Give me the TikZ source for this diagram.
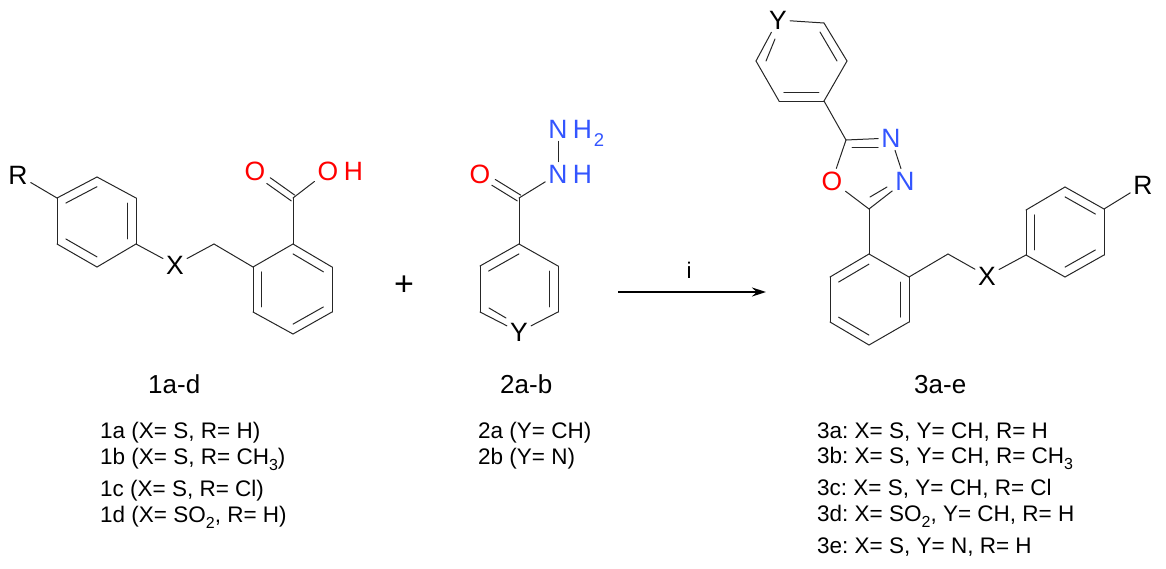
\documentclass[tikz,border=0pt]{standalone}
\usepackage{fontspec}
\setmainfont{Liberation Sans}
\usetikzlibrary{arrows.meta, positioning, calc}
\definecolor{oxred}{RGB}{255,0,0}
\definecolor{nitroblue}{RGB}{51,85,255}
\newcommand{\lowidx}[1]{\raisebox{-6.5pt}{\fontsize{16}{16}\selectfont #1}}
\newcommand{\innerbond}[3]{\draw[bond] ($(#1)!0.22!(#3)$) -- ($(#2)!0.22!(#3)$);}

\begin{document}
\begin{tikzpicture}[
        x=1pt, y=-1pt,
        bond/.style={line width=1pt, line cap=round, black!85},
        atom/.style={inner sep=3pt, font=\fontsize{26.5}{27}\selectfont},
        oatom/.style={atom, text=oxred},
        natom/.style={atom, text=nitroblue},
        title/.style={inner sep=0pt, anchor=base west, font=\fontsize{26}{27}\selectfont},
        entry/.style={inner sep=0pt, anchor=base west, font=\fontsize{22.5}{23}\selectfont\frenchspacing}
    ]
        \useasboundingbox (0,0) rectangle (1166,568);

        % reactant 1
        \foreach \name/\px/\py in {a1/57/198, a2/97/177, a3/136/198, a4/136/244, a5/97/267, a6/57/244,
            acen/97/221, ach/214/244,
            b1/293/244, b2/332/267, b3/332/312, b4/293/334, b5/253/312, b6/253/267,
            bcen/293/289, bco/293/198}
            \coordinate (\name) at (\px,\py);
        \node[atom] (ra) at (18,175) {R};
        \node[atom] (xa) at (175,265) {X};
        \node[oatom] (oa) at (255,171) {O};
        \node[oatom] (oha) at (328,171) {O};
        \node[oatom, right=-0.9pt of oha] (oha2) {H};

        \foreach \from/\to in {a1/a2, a2/a3, a3/a4, a4/a5, a5/a6, a6/a1, ra/a1, a4/xa, xa/ach, ach/b6,
            b1/b2, b2/b3, b3/b4, b4/b5, b5/b6, b6/b1, b1/bco, bco/oha}
            \draw[bond] (\from) -- (\to);
        \foreach \from/\to/\cen in {a1/a2/acen, a3/a4/acen, a5/a6/acen, b1/b2/bcen, b3/b4/bcen, b5/b6/bcen}
            {\innerbond{\from}{\to}{\cen}}
        \draw[bond, transform canvas={shift={(1.7pt,2.9pt)}}] (bco) -- (oa);
        \draw[bond, transform canvas={shift={(-1.7pt,-2.9pt)}}] (bco) -- (oa);

        \node[inner sep=0pt, font=\fontsize{34}{34}\selectfont] (plus) at (404,286) {+};

        % reactant 2
        \foreach \name/\px/\py in {c1/519/244, c2/558/266, c3/558/312, c5/480/312, c6/480/266,
            ccen/519/289, cco/519/198, c5in/489/308, c4in/506/318}
            \coordinate (\name) at (\px,\py);
        \node[atom] (yc) at (519,332) {Y};
        \node[oatom] (oc) at (480,174) {O};
        \node[natom] (nhc) at (558,174) {N};
        \node[natom, right=-1.1pt of nhc] (nhc2) {H};
        \node[natom] (nnc) at (558,129) {N};
        \node[natom, right=-1.1pt of nnc] (nnc2) {H};
        \node[inner sep=0pt, text=nitroblue, font=\fontsize{18.5}{19}\selectfont] (nnc3) at (599,140) {2};

        \foreach \from/\to in {c1/c2, c2/c3, c3/yc, yc/c5, c5/c6, c6/c1, c1/cco, cco/nhc, nhc/nnc, c5in/c4in}
            \draw[bond] (\from) -- (\to);
        \foreach \from/\to/\cen in {c6/c1/ccen, c2/c3/ccen}
            {\innerbond{\from}{\to}{\cen}}
        \draw[bond, transform canvas={shift={(1.7pt,2.9pt)}}] (cco) -- (oc);
        \draw[bond, transform canvas={shift={(-1.7pt,-2.9pt)}}] (cco) -- (oc);

        % arrow
        \coordinate (arrstart) at (618,292);
        \coordinate (arrend) at (766,292);
        \draw[-{Stealth[length=14pt, width=9pt]}, line width=1.6pt] (arrstart) -- (arrend);
        \node[inner sep=0pt, font=\fontsize{22.5}{23}\selectfont] (arrlabel) at (689,270) {i};

        % product
        \foreach \name/\px/\py in {d2/824/23, d3/847/61, d4/824/101, d5/779/101, d6/756/61,
            dcen/801/61, d6in/766/61, d1in/775/39, d2in/820/32, d3in/837/61,
            c5ox/846/140, c2ox/869/209, c5ni/852/147, n3in/878/147, c2in/870/197, n4in/887/187,
            e1/869/254, e2/909/277, e3/909/322, e4/869/345, e5/830/322, e6/830/277,
            ecen/869/300, ech/948/254,
            f1/1026/210, f2/1065/187, f3/1104/209, f4/1104/255, f5/1065/277, f6/1026/255,
            fcen/1065/232}
            \coordinate (\name) at (\px,\py);
        \node[atom] (yd) at (778,20) {Y};
        \node[natom] (n3) at (891,138) {N};
        \node[natom] (n4) at (905,181) {N};
        \node[oatom] (o1) at (832,181) {O};
        \node[atom] (xf) at (987,276) {X};
        \node[atom] (rf) at (1143,185) {R};

        \foreach \from/\to in {yd/d2, d2/d3, d3/d4, d4/d5, d5/d6, d6/yd, d4/c5ox, c5ox/n3, n3/n4, n4/c2ox, c2ox/o1, o1/c5ox,
            c2ox/e1, e1/e2, e2/e3, e3/e4, e4/e5, e5/e6, e6/e1, e2/ech, ech/xf, xf/f6,
            f1/f2, f2/f3, f3/f4, f4/f5, f5/f6, f6/f1, f3/rf,
            d2in/d3in, d6in/d1in, c5ni/n3in, c2in/n4in}
            \draw[bond] (\from) -- (\to);
        \foreach \from/\to/\cen in {d4/d5/dcen, e6/e1/ecen, e2/e3/ecen, e4/e5/ecen, f1/f6/fcen, f2/f3/fcen, f4/f5/fcen}
            {\innerbond{\from}{\to}{\cen}}

        % labels
        \node[title] (lbl1) at (148,393) {1a-d};
        \node[entry] (ent1a) at (100,438) {1a (X= S, R= H)};
        \node[entry] (ent1b) at (100,464) {1b (X= S, R= CH\lowidx{3})};
        \node[entry] (ent1c) at (100,496) {1c (X= S, R= Cl)};
        \node[entry] (ent1d) at (100,522) {1d (X= SO\lowidx{2}, R= H)};

        \node[title] (lbl2) at (500,393) {2a-b};
        \node[entry] (ent2a) at (478,438) {2a (Y= CH)};
        \node[entry] (ent2b) at (478,464) {2b (Y= N)};

        \node[title] (lbl3) at (914,393) {3a-e};
        \node[entry] (ent3a) at (817,438) {3a: X= S, Y= CH, R= H};
        \node[entry] (ent3b) at (817,463) {3b: X= S, Y= CH, R= CH\lowidx{3}};
        \node[entry] (ent3c) at (817,495) {3c: X= S, Y= CH, R= Cl};
        \node[entry] (ent3d) at (817,521) {3d: X= SO\lowidx{2}, Y= CH, R= H};
        \node[entry] (ent3e) at (817,553) {3e: X= S, Y= N, R= H};
    \end{tikzpicture}
\end{document}
